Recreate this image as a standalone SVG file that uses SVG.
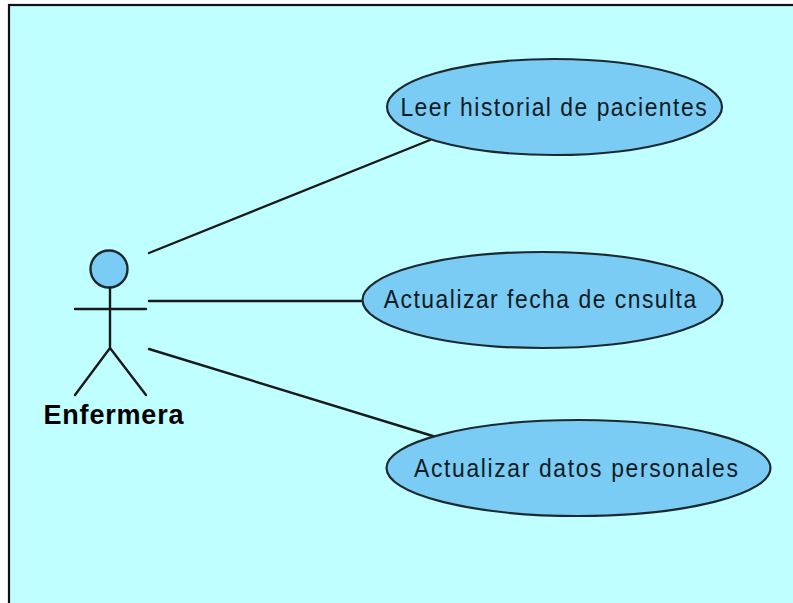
<svg xmlns="http://www.w3.org/2000/svg" width="793" height="603" viewBox="0 0 793 603">
<style>
.uc{fill:#7accf5;stroke:#1c2a30;stroke-width:2.2}
.ln{fill:none;stroke:#1a1a1a;stroke-width:2.400;stroke-linecap:round}
.t{font-family:"Liberation Sans",Arial,sans-serif;font-size:26px;fill:#0c1a22;text-anchor:middle}
.b{font-family:"Liberation Sans",Arial,sans-serif;font-size:27px;font-weight:bold;fill:#000;text-anchor:middle}
</style>
<rect width="793" height="603" fill="#fff"/>
<rect x="9" y="5" width="790" height="604" fill="#bfffff" stroke="#111" stroke-width="2.200"/>
<g id="connectors">
<line class="ln" x1="149" y1="253" x2="430" y2="140"/>
<line class="ln" x1="149" y1="301" x2="363" y2="301"/>
<line class="ln" x1="149" y1="349" x2="436" y2="437"/>
</g>
<g id="actor">
<circle cx="109" cy="269" r="18.500" fill="#7accf5" stroke="#1c2a30" stroke-width="2.400"/>
<path class="ln" d="M110 288V348M75 309H146M75 395L110 348L146 395"/>
<text class="b" x="113.500" y="424" textLength="140" lengthAdjust="spacing">Enfermera</text>
</g>
<g id="uc1">
<ellipse class="uc" cx="554.500" cy="107" rx="167.500" ry="48"/>
<text class="t" transform="translate(553.500 116) scale(.88 1)" textLength="348" lengthAdjust="spacing">Leer historial de pacientes</text>
</g>
<g id="uc2">
<ellipse class="uc" cx="542.500" cy="300" rx="180" ry="48"/>
<text class="t" transform="translate(540 308) scale(.88 1)" textLength="355" lengthAdjust="spacing">Actualizar fecha de cnsulta</text>
</g>
<g id="uc3">
<ellipse class="uc" cx="578.500" cy="468" rx="192" ry="48"/>
<text class="t" transform="translate(576 476.500) scale(.88 1)" textLength="368" lengthAdjust="spacing">Actualizar datos personales</text>
</g>
</svg>
